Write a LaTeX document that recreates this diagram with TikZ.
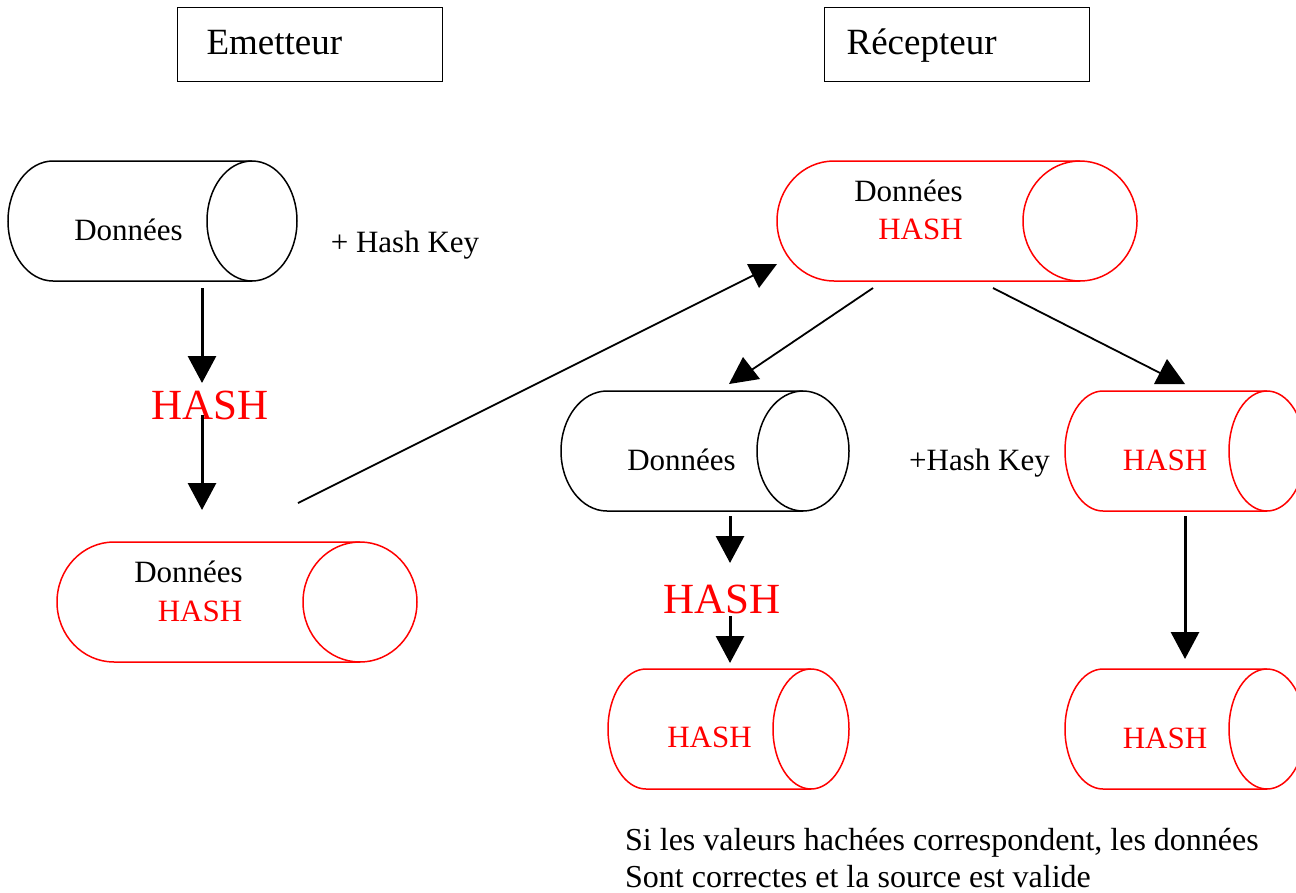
\documentclass[tikz,border=0pt]{standalone}
\usepackage{fontspec}
\setmainfont{Liberation Serif}
\usetikzlibrary{arrows.meta}
\tikzset{
  txt/.style={font=\fontsize{31}{37}\selectfont, inner sep=0pt, anchor=base},
  redtxt/.style={txt, text=red},
  notetxt/.style={font=\fontsize{32}{37}\selectfont, inner sep=0pt, anchor=base west},
  bighash/.style={font=\fontsize{43}{50}\selectfont, text=red, inner sep=0pt, anchor=base},
  titlebox/.style={draw, line width=1.2pt, anchor=north west, minimum width=265pt,
    minimum height=74pt, align=left, text height=20pt, text depth=0pt,
    font=\fontsize{37}{44}\selectfont},
  arr/.style={line width=3pt, -{Triangle[length=27pt,width=28pt]}},
  thinline/.style={line width=1.8pt},
  head/.style={fill=black}
}
\begin{document}
\begin{tikzpicture}[x=1pt,y=-1pt]
        \clip (0,0) rectangle (1296,892);
        % Titles
        \node[titlebox, text width=207pt, inner xsep=29pt] (emet) at (177,7) {Emetteur};
        \node[titlebox, text width=221pt, inner xsep=22pt] (recep) at (824,7) {Récepteur};
        % Cylinders (left, right, top, end radius, colour)
        \foreach \xl/\xr/\yt/\rx/\col in {8/297/161/45/black, 57/417/542/57/red,
            777/1137/161/57/red, 561/849/391/46/black, 1065/1305/391/38/red,
            608/849/669/38/red, 1065/1305/669/38/red} {
            \draw[\col, line width=1.5pt] (\xr-\rx,\yt) -- (\xl+\rx,\yt)
                arc[start angle=270, end angle=90, x radius=\rx, y radius=60] -- (\xr-\rx,\yt+120);
            \draw[\col, line width=1.5pt] (\xr-\rx,\yt+60) ellipse[x radius=\rx, y radius=60];
        }
        % Emetteur side
        \node[txt] (don1) at (128.5,240) {Données};
        \node[txt] (key1) at (405,252) {+ Hash Key};
        \node[bighash] (hash1) at (210,419) {HASH};
        \node[txt] (don2) at (188.5,582) {Données};
        \node[redtxt] (hash2) at (200,621) {HASH};
        % Recepteur side
        \node[txt] (don3) at (908.5,201) {Données};
        \node[redtxt] (hash3) at (920.5,239) {HASH};
        \node[txt] (don4) at (681.5,470) {Données};
        \node[txt] (key2) at (979.5,470) {+Hash Key};
        \node[redtxt] (hash5) at (1165,470) {HASH};
        \node[bighash] (hash4) at (722,613) {HASH};
        \node[redtxt] (hash6) at (709.5,747) {HASH};
        \node[redtxt] (hash7) at (1165,748) {HASH};
        \node[notetxt] (note1) at (625,850) {Si les valeurs hachées correspondent, les données};
        \node[notetxt] (note2) at (625,887) {Sont correctes et la source est valide};
        % Arrow ends
        \coordinate (a1s) at (202,288); \coordinate (a1e) at (202,383);
        \coordinate (a2s) at (202,415); \coordinate (a2e) at (202,510);
        \coordinate (a3s) at (730,516); \coordinate (a3e) at (730,563);
        \coordinate (a4s) at (730,616); \coordinate (a4e) at (730,663);
        \coordinate (a5s) at (1185,516); \coordinate (a5e) at (1185,659);
        \coordinate (d1s) at (298,503); \coordinate (d1e) at (760,272);
        \coordinate (d2s) at (873,288); \coordinate (d2e) at (750,371);
        \coordinate (d3s) at (993,288); \coordinate (d3e) at (1164,375);
        % Vertical arrows
        \foreach \s/\e in {a1s/a1e, a2s/a2e, a3s/a3e, a4s/a4e, a5s/a5e} {
            \draw[arr] (\s) -- (\e);
        }
        % Slanted links with their heads
        \foreach \s/\e in {d1s/d1e, d2s/d2e, d3s/d3e} {
            \draw[thinline] (\s) -- (\e);
        }
        \fill[head] (747,264) -- (777,264) -- (759,288) -- cycle;
        \fill[head] (743,357) -- (760,379) -- (729,384) -- cycle;
        \fill[head] (1167,359) -- (1185,384) -- (1154,384) -- cycle;
\end{tikzpicture}
\end{document}
